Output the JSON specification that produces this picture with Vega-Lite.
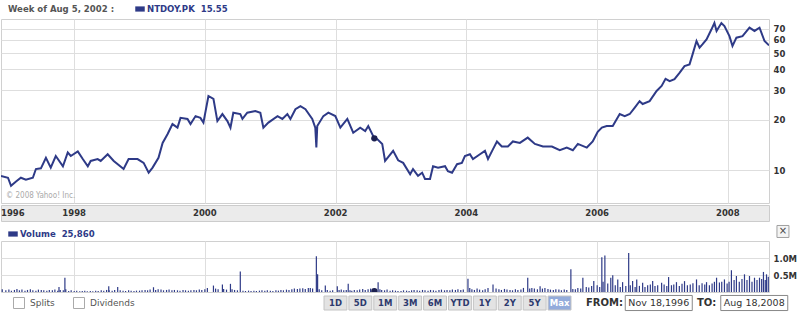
{
  "$schema": "https://vega.github.io/schema/vega-lite/v6.json",
  "background": "white",
  "padding": 0,
  "autosize": {"type": "pad"},
  "config": {
    "font": "DejaVu Sans",
    "view": {"stroke": "#d0d0d0"},
    "axis": {"gridColor": "#dedede", "domain": false, "ticks": false, "labelFont": "DejaVu Sans", "labelFontWeight": "bold", "labelFontSize": 8.5, "labelColor": "#333333"}
  },
  "datasets": {
    "price": [
      {"d":"1996-11-18","p":9.27},{"d":"1996-12-27","p":9.05},{"d":"1997-01-13","p":8.1},{"d":"1997-02-10","p":8.6},{"d":"1997-03-09","p":9.05},{"d":"1997-04-06","p":8.8},{"d":"1997-05-15","p":9.05},{"d":"1997-06-01","p":10.2},{"d":"1997-06-29","p":10.3},{"d":"1997-07-27","p":11.9},{"d":"1997-08-23","p":10.4},{"d":"1997-09-20","p":12.2},{"d":"1997-10-30","p":10.6},{"d":"1997-11-26","p":12.8},{"d":"1997-12-13","p":12.2},
      {"d":"1998-01-21","p":13.0},{"d":"1998-02-18","p":11.7},{"d":"1998-03-18","p":10.6},{"d":"1998-04-03","p":11.4},{"d":"1998-05-12","p":11.7},{"d":"1998-05-29","p":11.4},{"d":"1998-07-07","p":12.5},{"d":"1998-08-10","p":11.4},{"d":"1998-10-04","p":10.2},{"d":"1998-11-01","p":11.7},{"d":"1998-12-21","p":11.7},
      {"d":"1999-01-24","p":11.1},{"d":"1999-02-21","p":9.7},{"d":"1999-03-15","p":10.4},{"d":"1999-04-17","p":11.9},{"d":"1999-05-10","p":14.6},{"d":"1999-06-07","p":16.5},{"d":"1999-07-04","p":18.9},{"d":"1999-08-01","p":18.0},{"d":"1999-08-18","p":20.6},{"d":"1999-09-26","p":20.3},{"d":"1999-10-13","p":18.9},{"d":"1999-11-10","p":21.1},{"d":"1999-12-07","p":20.6},{"d":"1999-12-24","p":19.3},
      {"d":"2000-01-21","p":27.8},{"d":"2000-02-18","p":26.7},{"d":"2000-03-11","p":19.7},{"d":"2000-04-08","p":21.7},{"d":"2000-05-06","p":19.7},{"d":"2000-05-23","p":18.0},{"d":"2000-06-08","p":22.1},{"d":"2000-07-17","p":21.7},{"d":"2000-07-29","p":20.3},{"d":"2000-08-25","p":22.1},{"d":"2000-10-09","p":22.6},{"d":"2000-11-06","p":22.1},{"d":"2000-11-23","p":18.0},{"d":"2000-12-21","p":19.3},
      {"d":"2001-02-10","p":21.1},{"d":"2001-03-09","p":20.3},{"d":"2001-04-06","p":21.7},{"d":"2001-04-23","p":20.3},{"d":"2001-05-21","p":23.2},{"d":"2001-06-18","p":24.2},{"d":"2001-07-16","p":23.2},{"d":"2001-08-23","p":20.3},{"d":"2001-09-09","p":18.0},{"d":"2001-09-15","p":13.7},{"d":"2001-09-20","p":18.4},{"d":"2001-10-24","p":21.1},{"d":"2001-11-21","p":22.1},{"d":"2001-12-30","p":21.1},
      {"d":"2002-01-27","p":18.0},{"d":"2002-03-07","p":20.3},{"d":"2002-04-09","p":16.8},{"d":"2002-05-18","p":18.0},{"d":"2002-06-15","p":17.2},{"d":"2002-07-02","p":18.4},{"d":"2002-08-05","p":15.55},{"d":"2002-08-21","p":15.4},{"d":"2002-09-18","p":14.4},{"d":"2002-10-04","p":11.4},{"d":"2002-10-21","p":12.0},{"d":"2002-11-18","p":13.1},{"d":"2002-12-16","p":11.5},
      {"d":"2003-01-13","p":11.1},{"d":"2003-02-21","p":9.5},{"d":"2003-03-09","p":10.2},{"d":"2003-04-06","p":9.3},{"d":"2003-04-29","p":9.7},{"d":"2003-05-15","p":8.9},{"d":"2003-06-12","p":8.9},{"d":"2003-06-29","p":10.6},{"d":"2003-07-27","p":10.4},{"d":"2003-09-04","p":10.6},{"d":"2003-09-20","p":9.9},{"d":"2003-10-13","p":9.7},{"d":"2003-11-10","p":10.9},{"d":"2003-12-07","p":11.1},{"d":"2003-12-24","p":12.2},
      {"d":"2004-01-21","p":12.5},{"d":"2004-02-07","p":11.7},{"d":"2004-03-17","p":12.5},{"d":"2004-04-14","p":13.1},{"d":"2004-05-01","p":11.7},{"d":"2004-05-29","p":13.4},{"d":"2004-06-20","p":14.9},{"d":"2004-07-17","p":13.9},{"d":"2004-08-20","p":13.9},{"d":"2004-09-17","p":14.9},{"d":"2004-10-26","p":14.6},{"d":"2004-12-09","p":15.7},
      {"d":"2005-01-18","p":14.4},{"d":"2005-03-04","p":13.9},{"d":"2005-04-23","p":13.9},{"d":"2005-06-06","p":13.2},{"d":"2005-07-15","p":13.7},{"d":"2005-08-18","p":13.2},{"d":"2005-09-15","p":14.4},{"d":"2005-11-04","p":13.7},{"d":"2005-12-07","p":14.9},
      {"d":"2006-01-04","p":17.0},{"d":"2006-01-27","p":18.0},{"d":"2006-02-23","p":18.4},{"d":"2006-03-29","p":18.4},{"d":"2006-05-07","p":21.7},{"d":"2006-06-04","p":21.1},{"d":"2006-07-02","p":21.7},{"d":"2006-07-30","p":23.7},{"d":"2006-08-26","p":25.9},{"d":"2006-09-12","p":24.9},{"d":"2006-10-21","p":25.9},{"d":"2006-11-29","p":29.8},{"d":"2006-12-27","p":31.9},
      {"d":"2007-01-18","p":35.2},{"d":"2007-02-10","p":34.1},{"d":"2007-03-09","p":35.0},{"d":"2007-04-06","p":38.2},{"d":"2007-05-04","p":41.9},{"d":"2007-06-01","p":42.9},{"d":"2007-06-18","p":49.2},{"d":"2007-07-10","p":59.1},{"d":"2007-07-27","p":54.0},{"d":"2007-08-12","p":56.4},{"d":"2007-09-04","p":60.5},{"d":"2007-10-01","p":69.2},{"d":"2007-10-18","p":75.7},{"d":"2007-10-30","p":67.9},{"d":"2007-11-26","p":75.7},{"d":"2007-12-13","p":72.6},
      {"d":"2008-01-10","p":63.2},{"d":"2008-01-27","p":55.2},{"d":"2008-02-18","p":61.9},{"d":"2008-03-23","p":63.2},{"d":"2008-05-01","p":71.0},{"d":"2008-05-29","p":67.9},{"d":"2008-06-26","p":71.0},{"d":"2008-07-24","p":59.1},{"d":"2008-08-18","p":55.7}
    ],
    "volume": [
      {"d":"1996-11-25","v":80000},{"d":"1996-12-15","v":50000},
      {"d":"1997-01-01","v":70000},{"d":"1997-01-15","v":40000},{"d":"1997-02-01","v":60000},{"d":"1997-02-15","v":90000},{"d":"1997-03-01","v":50000},{"d":"1997-03-15","v":70000},{"d":"1997-04-01","v":40000},{"d":"1997-04-15","v":60000},{"d":"1997-05-01","v":80000},{"d":"1997-05-15","v":50000},{"d":"1997-06-01","v":40000},{"d":"1997-06-15","v":70000},{"d":"1997-07-01","v":60000},{"d":"1997-07-15","v":50000},{"d":"1997-08-01","v":40000},{"d":"1997-08-15","v":60000},{"d":"1997-09-01","v":50000},{"d":"1997-09-15","v":70000},{"d":"1997-10-01","v":40000},{"d":"1997-10-08","v":150000},{"d":"1997-10-15","v":60000},{"d":"1997-11-01","v":50000},{"d":"1997-11-10","v":420000},{"d":"1997-11-15","v":80000},{"d":"1997-12-01","v":30000},{"d":"1997-12-15","v":50000},
      {"d":"1998-01-01","v":30000},{"d":"1998-01-15","v":40000},{"d":"1998-02-01","v":20000},{"d":"1998-02-15","v":30000},{"d":"1998-03-01","v":40000},{"d":"1998-03-15","v":20000},{"d":"1998-04-01","v":30000},{"d":"1998-04-15","v":20000},{"d":"1998-05-01","v":40000},{"d":"1998-05-15","v":30000},{"d":"1998-06-01","v":50000},{"d":"1998-06-15","v":40000},{"d":"1998-07-01","v":60000},{"d":"1998-07-13","v":170000},{"d":"1998-07-15","v":50000},{"d":"1998-08-01","v":40000},{"d":"1998-08-15","v":60000},{"d":"1998-09-01","v":150000},{"d":"1998-09-15","v":50000},{"d":"1998-10-01","v":40000},{"d":"1998-10-15","v":30000},{"d":"1998-11-01","v":50000},{"d":"1998-11-15","v":40000},{"d":"1998-12-01","v":30000},{"d":"1998-12-15","v":40000},
      {"d":"1999-01-01","v":40000},{"d":"1999-01-15","v":50000},{"d":"1999-02-01","v":60000},{"d":"1999-02-15","v":50000},{"d":"1999-03-01","v":70000},{"d":"1999-03-20","v":140000},{"d":"1999-04-01","v":60000},{"d":"1999-04-15","v":80000},{"d":"1999-05-01","v":70000},{"d":"1999-05-15","v":50000},{"d":"1999-06-01","v":60000},{"d":"1999-06-15","v":70000},{"d":"1999-07-01","v":50000},{"d":"1999-07-15","v":60000},{"d":"1999-08-01","v":50000},{"d":"1999-08-15","v":40000},{"d":"1999-09-01","v":60000},{"d":"1999-09-15","v":50000},{"d":"1999-10-01","v":40000},{"d":"1999-10-15","v":50000},{"d":"1999-11-01","v":60000},{"d":"1999-11-15","v":50000},{"d":"1999-12-01","v":70000},{"d":"1999-12-15","v":60000},
      {"d":"2000-01-01","v":80000},{"d":"2000-01-15","v":120000},{"d":"2000-02-18","v":190000},{"d":"2000-03-01","v":100000},{"d":"2000-03-15","v":80000},{"d":"2000-04-08","v":220000},{"d":"2000-04-15","v":90000},{"d":"2000-05-01","v":70000},{"d":"2000-05-23","v":240000},{"d":"2000-06-01","v":80000},{"d":"2000-06-15","v":60000},{"d":"2000-07-01","v":50000},{"d":"2000-07-17","v":600000},{"d":"2000-08-01","v":40000},{"d":"2000-08-15","v":30000},{"d":"2000-09-01","v":40000},{"d":"2000-09-15","v":30000},{"d":"2000-10-01","v":40000},{"d":"2000-10-15","v":30000},{"d":"2000-11-01","v":40000},{"d":"2000-11-15","v":50000},{"d":"2000-12-01","v":40000},{"d":"2000-12-15","v":50000},
      {"d":"2001-01-01","v":40000},{"d":"2001-01-15","v":30000},{"d":"2001-02-01","v":50000},{"d":"2001-02-15","v":40000},{"d":"2001-03-01","v":60000},{"d":"2001-03-15","v":50000},{"d":"2001-04-01","v":70000},{"d":"2001-04-15","v":60000},{"d":"2001-05-01","v":80000},{"d":"2001-05-15","v":100000},{"d":"2001-06-01","v":90000},{"d":"2001-06-15","v":100000},{"d":"2001-07-01","v":110000},{"d":"2001-07-15","v":90000},{"d":"2001-08-01","v":120000},{"d":"2001-08-12","v":120000},{"d":"2001-08-25","v":100000},{"d":"2001-09-15","v":1050000},{"d":"2001-09-22","v":520000},{"d":"2001-10-01","v":80000},{"d":"2001-10-15","v":50000},{"d":"2001-11-04","v":190000},{"d":"2001-11-15","v":60000},{"d":"2001-12-01","v":40000},{"d":"2001-12-15","v":50000},
      {"d":"2002-01-10","v":170000},{"d":"2002-01-20","v":60000},{"d":"2002-02-01","v":70000},{"d":"2002-02-15","v":50000},{"d":"2002-03-01","v":60000},{"d":"2002-03-12","v":240000},{"d":"2002-03-22","v":50000},{"d":"2002-04-01","v":40000},{"d":"2002-04-15","v":60000},{"d":"2002-05-01","v":50000},{"d":"2002-05-15","v":70000},{"d":"2002-06-01","v":90000},{"d":"2002-06-15","v":60000},{"d":"2002-07-01","v":80000},{"d":"2002-07-15","v":100000},{"d":"2002-08-15","v":70000},{"d":"2002-08-26","v":290000},{"d":"2002-09-05","v":80000},{"d":"2002-09-15","v":60000},{"d":"2002-10-01","v":50000},{"d":"2002-10-15","v":70000},{"d":"2002-11-01","v":40000},{"d":"2002-11-15","v":50000},{"d":"2002-12-01","v":40000},{"d":"2002-12-15","v":30000},
      {"d":"2003-01-01","v":30000},{"d":"2003-01-15","v":50000},{"d":"2003-02-01","v":40000},{"d":"2003-02-15","v":30000},{"d":"2003-03-01","v":50000},{"d":"2003-03-15","v":60000},{"d":"2003-04-01","v":50000},{"d":"2003-04-15","v":40000},{"d":"2003-05-01","v":60000},{"d":"2003-05-15","v":50000},{"d":"2003-06-01","v":40000},{"d":"2003-06-15","v":60000},{"d":"2003-07-01","v":50000},{"d":"2003-07-15","v":40000},{"d":"2003-08-01","v":60000},{"d":"2003-08-15","v":70000},{"d":"2003-09-01","v":50000},{"d":"2003-09-15","v":60000},{"d":"2003-10-01","v":50000},{"d":"2003-10-15","v":70000},{"d":"2003-11-01","v":60000},{"d":"2003-11-15","v":80000},{"d":"2003-12-01","v":60000},{"d":"2003-12-15","v":70000},
      {"d":"2004-01-10","v":390000},{"d":"2004-01-20","v":120000},{"d":"2004-02-01","v":80000},{"d":"2004-02-15","v":60000},{"d":"2004-03-01","v":100000},{"d":"2004-03-15","v":70000},{"d":"2004-04-01","v":50000},{"d":"2004-04-15","v":80000},{"d":"2004-05-01","v":120000},{"d":"2004-05-29","v":220000},{"d":"2004-06-15","v":100000},{"d":"2004-07-01","v":80000},{"d":"2004-07-15","v":60000},{"d":"2004-08-01","v":90000},{"d":"2004-08-15","v":70000},{"d":"2004-09-01","v":60000},{"d":"2004-09-15","v":50000},{"d":"2004-10-01","v":80000},{"d":"2004-10-15","v":60000},{"d":"2004-11-01","v":70000},{"d":"2004-11-15","v":120000},{"d":"2004-12-09","v":420000},{"d":"2004-12-20","v":100000},
      {"d":"2005-01-01","v":120000},{"d":"2005-01-15","v":100000},{"d":"2005-02-01","v":80000},{"d":"2005-02-16","v":170000},{"d":"2005-03-01","v":100000},{"d":"2005-03-15","v":120000},{"d":"2005-04-01","v":90000},{"d":"2005-04-15","v":70000},{"d":"2005-05-01","v":60000},{"d":"2005-05-15","v":80000},{"d":"2005-06-01","v":70000},{"d":"2005-06-15","v":50000},{"d":"2005-07-01","v":70000},{"d":"2005-07-15","v":60000},{"d":"2005-08-07","v":670000},{"d":"2005-08-18","v":90000},{"d":"2005-09-01","v":80000},{"d":"2005-09-15","v":120000},{"d":"2005-10-01","v":100000},{"d":"2005-10-13","v":420000},{"d":"2005-11-01","v":150000},{"d":"2005-11-15","v":130000},{"d":"2005-12-01","v":180000},{"d":"2005-12-13","v":320000},
      {"d":"2006-01-01","v":200000},{"d":"2006-01-15","v":150000},{"d":"2006-01-27","v":1020000},{"d":"2006-02-03","v":300000},{"d":"2006-02-13","v":1070000},{"d":"2006-03-01","v":250000},{"d":"2006-03-18","v":420000},{"d":"2006-03-29","v":490000},{"d":"2006-04-12","v":200000},{"d":"2006-04-26","v":370000},{"d":"2006-05-10","v":150000},{"d":"2006-05-23","v":290000},{"d":"2006-06-10","v":180000},{"d":"2006-06-26","v":1150000},{"d":"2006-07-05","v":200000},{"d":"2006-07-18","v":320000},{"d":"2006-08-01","v":150000},{"d":"2006-08-10","v":370000},{"d":"2006-08-25","v":180000},{"d":"2006-09-12","v":270000},{"d":"2006-09-25","v":150000},{"d":"2006-10-10","v":200000},{"d":"2006-10-25","v":220000},{"d":"2006-11-07","v":320000},{"d":"2006-11-20","v":180000},{"d":"2006-12-05","v":200000},{"d":"2006-12-27","v":270000},
      {"d":"2007-01-10","v":220000},{"d":"2007-01-25","v":180000},{"d":"2007-02-04","v":440000},{"d":"2007-02-20","v":200000},{"d":"2007-03-05","v":220000},{"d":"2007-03-20","v":290000},{"d":"2007-04-05","v":180000},{"d":"2007-04-20","v":240000},{"d":"2007-05-04","v":320000},{"d":"2007-05-20","v":200000},{"d":"2007-06-05","v":220000},{"d":"2007-06-20","v":260000},{"d":"2007-07-10","v":370000},{"d":"2007-07-25","v":200000},{"d":"2007-08-10","v":260000},{"d":"2007-08-25","v":220000},{"d":"2007-09-04","v":290000},{"d":"2007-09-20","v":200000},{"d":"2007-10-05","v":250000},{"d":"2007-10-18","v":300000},{"d":"2007-10-30","v":420000},{"d":"2007-11-15","v":280000},{"d":"2007-11-28","v":300000},{"d":"2007-12-13","v":370000},{"d":"2007-12-28","v":250000},
      {"d":"2008-01-08","v":300000},{"d":"2008-01-21","v":640000},{"d":"2008-02-05","v":350000},{"d":"2008-02-18","v":470000},{"d":"2008-03-05","v":300000},{"d":"2008-03-20","v":380000},{"d":"2008-04-03","v":520000},{"d":"2008-04-17","v":350000},{"d":"2008-05-01","v":470000},{"d":"2008-05-15","v":300000},{"d":"2008-05-29","v":420000},{"d":"2008-06-12","v":350000},{"d":"2008-06-26","v":420000},{"d":"2008-07-08","v":380000},{"d":"2008-07-18","v":590000},{"d":"2008-07-28","v":350000},{"d":"2008-08-04","v":520000},{"d":"2008-08-14","v":450000}
    ],
    "years": [
      {"d":"1998-01-01","label":"1998"},{"d":"2000-01-01","label":"2000"},{"d":"2002-01-01","label":"2002"},{"d":"2004-01-01","label":"2004"},{"d":"2006-01-01","label":"2006"},{"d":"2008-01-01","label":"2008"}
    ],
    "selected": [{"d":"2002-08-05","p":15.55,"v":25860}]
  },
  "spacing": 0,
  "vconcat": [
    {
      "spacing": 0,
      "resolve": {"scale": {"color": "independent"}, "legend": {"color": "independent"}},
      "vconcat": [
        {
          "width": 768,
          "height": 184,
          "layer": [
            {
              "data": {"name": "price"},
              "mark": {"type": "line", "strokeWidth": 2, "clip": true},
              "encoding": {
                "x": {"field": "d", "type": "temporal", "scale": {"domain": [{"year":1996,"month":11,"date":18,"utc":true},{"year":2008,"month":8,"date":18,"utc":true}], "nice": false},
                      "axis": {"values": [{"year":1998,"month":1,"date":1,"utc":true},{"year":2000,"month":1,"date":1,"utc":true},{"year":2002,"month":1,"date":1,"utc":true},{"year":2004,"month":1,"date":1,"utc":true},{"year":2006,"month":1,"date":1,"utc":true},{"year":2008,"month":1,"date":1,"utc":true}], "grid": true, "labels": false, "ticks": false, "domain": false, "title": null}},
                "y": {"field": "p", "type": "quantitative", "scale": {"type": "log", "domain": [6.4, 80], "nice": false},
                      "axis": {"orient": "right", "values": [10,20,30,40,50,60,70], "grid": true, "labelPadding": 4, "title": null}},
                "color": {"datum": "NTDOY.PK\u00a0\u00a015.55", "scale": {"range": ["#2e3a87"]},
                  "legend": {"orient": "none", "legendX": 4, "legendY": -18, "padding": 3,
                    "title": "Week of Aug 5, 2002 :", "titleOrient": "left", "titlePadding": 20,
                    "titleFont": "DejaVu Sans Condensed", "titleFontSize": 9.5, "titleFontWeight": "bold", "titleColor": "#555555", "titleBaseline": "middle",
                    "symbolType": "M-1,-0.55H1V0.55H-1Z", "symbolSize": 90, "labelOffset": 2, "labelLimit": 0,
                    "labelFont": "DejaVu Sans Condensed", "labelFontSize": 9.5, "labelFontWeight": "bold", "labelColor": "#2e3a87",
                    "encode": {"symbols": {"update": {"fill": {"value": "#2e3a87"}, "strokeWidth": {"value": 0}}}}}}
              }
            },
            {
              "data": {"name": "selected"},
              "mark": {"type": "point", "filled": true, "color": "#1c2050", "size": 40, "opacity": 1},
              "encoding": {
                "x": {"field": "d", "type": "temporal", "scale": {"domain": [{"year":1996,"month":11,"date":18,"utc":true},{"year":2008,"month":8,"date":18,"utc":true}], "nice": false}},
                "y": {"field": "p", "type": "quantitative", "scale": {"type": "log", "domain": [6.4, 80], "nice": false}}
              }
            },
            {
              "data": {"values": [{"note": "© 2008 Yahoo! Inc."}]},
              "mark": {"type": "text", "align": "left", "baseline": "middle", "fontSize": 8, "color": "#aaaaaa", "font": "DejaVu Sans Condensed"},
              "encoding": {
                "x": {"datum": {"year":1996,"month":12,"date":16,"utc":true}, "type": "temporal"},
                "y": {"datum": 7.0, "type": "quantitative"},
                "text": {"field": "note"}
              }
            }
          ]
        },
        {
          "width": 768,
          "height": 16,
          "view": {"fill": "#ebebeb", "stroke": "#cccccc"},
          "layer": [
            {
              "data": {"name": "years"},
              "mark": {"type": "text", "align": "center", "baseline": "middle", "fontWeight": "bold", "fontSize": 8.5, "color": "#333333"},
              "encoding": {
                "x": {"field": "d", "type": "temporal", "scale": {"domain": [{"year":1996,"month":11,"date":18,"utc":true},{"year":2008,"month":8,"date":18,"utc":true}], "nice": false}, "axis": null},
                "text": {"field": "label"}
              }
            },
            {
              "data": {"values": [{"label": "1996"}]},
              "mark": {"type": "text", "align": "left", "baseline": "middle", "fontWeight": "bold", "fontSize": 8.5, "color": "#333333"},
              "encoding": {
                "x": {"datum": {"year":1996,"month":11,"date":18,"utc":true}, "type": "temporal"},
                "text": {"field": "label"}
              }
            }
          ]
        },
        {
          "width": 768,
          "height": 51,
          "layer": [
            {
              "data": {"name": "volume"},
              "mark": {"type": "rule", "strokeWidth": 1.2, "clip": true},
              "encoding": {
                "x": {"field": "d", "type": "temporal", "scale": {"domain": [{"year":1996,"month":11,"date":18,"utc":true},{"year":2008,"month":8,"date":18,"utc":true}], "nice": false},
                      "axis": {"values": [{"year":1998,"month":1,"date":1,"utc":true},{"year":2000,"month":1,"date":1,"utc":true},{"year":2002,"month":1,"date":1,"utc":true},{"year":2004,"month":1,"date":1,"utc":true},{"year":2006,"month":1,"date":1,"utc":true},{"year":2008,"month":1,"date":1,"utc":true}], "grid": true, "labels": false, "ticks": false, "domain": false, "title": null}},
                "y": {"field": "v", "type": "quantitative", "scale": {"domain": [0, 1500000], "nice": false},
                      "axis": {"orient": "right", "values": [500000, 1000000], "grid": true, "labelPadding": 4, "title": null, "labelExpr": "format(datum.value / 1000000, '.1f') + 'M'"}},
                "y2": {"datum": 0},
                "color": {"datum": "Volume\u00a0\u00a025,860", "scale": {"range": ["#2e3a87"]},
                  "legend": {"orient": "none", "legendX": 3, "legendY": -16, "padding": 4, "title": null,
                    "symbolType": "M-1,-0.55H1V0.55H-1Z", "symbolSize": 90, "labelOffset": 2, "labelLimit": 0,
                    "labelFont": "DejaVu Sans Condensed", "labelFontSize": 9.5, "labelFontWeight": "bold", "labelColor": "#2e3a87",
                    "encode": {"symbols": {"update": {"fill": {"value": "#2e3a87"}, "strokeWidth": {"value": 0}}}}}}
              }
            },
            {
              "data": {"name": "selected"},
              "mark": {"type": "point", "filled": true, "color": "#1c2050", "size": 40, "opacity": 1, "clip": true},
              "encoding": {
                "x": {"field": "d", "type": "temporal", "scale": {"domain": [{"year":1996,"month":11,"date":18,"utc":true},{"year":2008,"month":8,"date":18,"utc":true}], "nice": false}},
                "y": {"field": "v", "type": "quantitative", "scale": {"domain": [0, 1500000], "nice": false}}
              }
            },
            {
              "data": {"values": [{"btn": "×"}]},
              "mark": {"type": "point", "shape": "square", "size": 144, "filled": true, "fill": "#f4f4f4", "stroke": "#a0a0a0", "strokeWidth": 1, "opacity": 1},
              "encoding": {
                "x": {"datum": {"year":2008,"month":11,"date":4,"utc":true}, "type": "temporal"},
                "y": {"datum": 1780000, "type": "quantitative"}
              }
            },
            {
              "data": {"values": [{"btn": "×"}]},
              "mark": {"type": "text", "align": "center", "baseline": "middle", "fontSize": 10, "color": "#444444"},
              "encoding": {
                "x": {"datum": {"year":2008,"month":11,"date":4,"utc":true}, "type": "temporal"},
                "y": {"datum": 1780000, "type": "quantitative"},
                "text": {"field": "btn"}
              }
            }
          ]
        }
      ]
    },
    {
      "width": 800,
      "height": 14,
      "view": {"stroke": null},
      "resolve": {"scale": {"x": "independent"}},
      "layer": [
        {
          "data": {"values": [{"opt": "Splits"}, {"opt": "Dividends"}]},
          "mark": {"type": "point", "shape": "square", "size": 121, "filled": true, "fill": "white", "stroke": "#aaaaaa", "strokeWidth": 1, "opacity": 1, "xOffset": 18},
          "encoding": {
            "x": {"field": "opt", "type": "nominal", "bandPosition": 0, "scale": {"type": "band", "domain": ["Splits", "Dividends"], "range": [0, 120], "paddingInner": 0, "paddingOuter": 0}, "axis": null}
          }
        },
        {
          "data": {"values": [{"opt": "Splits"}, {"opt": "Dividends"}]},
          "mark": {"type": "text", "align": "left", "baseline": "middle", "dx": 29, "fontSize": 9, "color": "#555555"},
          "encoding": {
            "x": {"field": "opt", "type": "nominal", "bandPosition": 0, "scale": {"type": "band", "domain": ["Splits", "Dividends"], "range": [0, 120], "paddingInner": 0, "paddingOuter": 0}, "axis": null},
            "text": {"field": "opt"}
          }
        },
        {
          "data": {"values": [{"b":"1D"},{"b":"5D"},{"b":"1M"},{"b":"3M"},{"b":"6M"},{"b":"YTD"},{"b":"1Y"},{"b":"2Y"},{"b":"5Y"},{"b":"Max"}]},
          "mark": {"type": "rect", "stroke": "#c4c4c4", "strokeWidth": 1},
          "encoding": {
            "x": {"field": "b", "type": "nominal", "scale": {"type": "band", "domain": ["1D","5D","1M","3M","6M","YTD","1Y","2Y","5Y","Max"], "range": [323, 570], "paddingInner": 0.08, "paddingOuter": 0}, "axis": null},
            "color": {"condition": {"test": "datum.b === 'Max'", "value": "#93abdb"}, "value": "#e3e3e3"}
          }
        },
        {
          "data": {"values": [{"b":"1D"},{"b":"5D"},{"b":"1M"},{"b":"3M"},{"b":"6M"},{"b":"YTD"},{"b":"1Y"},{"b":"2Y"},{"b":"5Y"},{"b":"Max"}]},
          "mark": {"type": "text", "align": "center", "baseline": "middle", "fontWeight": "bold", "fontSize": 8.5},
          "encoding": {
            "x": {"field": "b", "type": "nominal", "scale": {"type": "band", "domain": ["1D","5D","1M","3M","6M","YTD","1Y","2Y","5Y","Max"], "range": [323, 570], "paddingInner": 0.08, "paddingOuter": 0}, "axis": null},
            "text": {"field": "b"},
            "color": {"condition": {"test": "datum.b === 'Max'", "value": "white"}, "value": "#2d3a6e"}
          }
        },
        {
          "data": {"values": [{"k": "FROM:"}, {"k": "TO:"}]},
          "mark": {"type": "text", "align": "left", "baseline": "middle", "fontWeight": "bold", "fontSize": 10, "color": "#333333"},
          "encoding": {
            "x": {"field": "k", "type": "nominal", "bandPosition": 0, "scale": {"type": "band", "domain": ["FROM:", "TO:"], "range": [585, 807], "paddingInner": 0, "paddingOuter": 0}, "axis": null},
            "text": {"field": "k"}
          }
        },
        {
          "data": {"values": [{"dt": "Nov 18,1996"}, {"dt": "Aug 18,2008"}]},
          "mark": {"type": "point", "shape": "M-1,-0.225H1V0.225H-1Z", "size": 4489, "filled": true, "fill": "white", "stroke": "#888888", "strokeWidth": 1, "opacity": 1},
          "encoding": {
            "x": {"field": "dt", "type": "nominal", "scale": {"type": "band", "domain": ["Nov 18,1996", "Aug 18,2008"], "range": [610, 801], "paddingInner": 0, "paddingOuter": 0}, "axis": null}
          }
        },
        {
          "data": {"values": [{"dt": "Nov 18,1996"}, {"dt": "Aug 18,2008"}]},
          "mark": {"type": "text", "align": "center", "baseline": "middle", "fontSize": 9.5, "color": "#333333"},
          "encoding": {
            "x": {"field": "dt", "type": "nominal", "scale": {"type": "band", "domain": ["Nov 18,1996", "Aug 18,2008"], "range": [610, 801], "paddingInner": 0, "paddingOuter": 0}, "axis": null},
            "text": {"field": "dt"}
          }
        }
      ]
    }
  ]
}
